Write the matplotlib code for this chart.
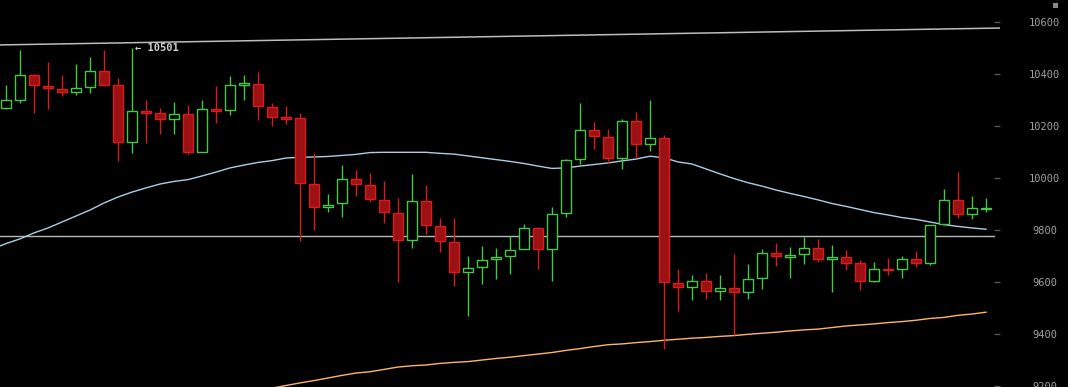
import matplotlib
matplotlib.use("Agg")
import matplotlib.pyplot as plt
from matplotlib.patches import Rectangle
import numpy as np

# ---- data ----
opens = [10272, 10302, 10396, 10354, 10342, 10331, 10350, 10412, 10358, 10141,
         10259, 10250, 10229, 10246, 10102, 10265, 10262, 10361, 10362, 10273,
         10233, 10231, 9977, 9888, 9904, 9996, 9973, 9915, 9865, 9762,
         9912, 9815, 9754, 9638, 9658, 9688, 9700, 9727, 9808, 9727,
         9865, 10073, 10185, 10158, 10077, 10219, 10131, 10154, 9596, 9581,
         9604, 9565, 9577, 9562, 9615, 9712, 9700, 9708, 9731, 9693,
         9696, 9673, 9606, 9652, 9650, 9688, 9673, 9823, 9915, 9862, 9883]
highs = [10359, 10493, 10401, 10447, 10397, 10440, 10467, 10495, 10385, 10501,
         10301, 10270, 10293, 10282, 10301, 10355, 10393, 10397, 10409, 10288,
         10278, 10251, 10097, 9938, 10050, 10032, 10019, 9990, 9924, 10017,
         9973, 9847, 9847, 9700, 9740, 9731, 9778, 9823, 9812, 9888,
         10073, 10290, 10217, 10190, 10228, 10255, 10301, 10165, 9650, 9627,
         9635, 9627, 9710, 9670, 9727, 9750, 9735, 9774, 9765, 9743,
         9724, 9686, 9678, 9693, 9700, 9720, 9819, 9959, 10024, 9932, 9924]
lows = [10268, 10291, 10252, 10267, 10318, 10322, 10329, 10360, 10068, 10098,
        10137, 10172, 10172, 10095, 10100, 10214, 10245, 10302, 10225, 10202,
        10210, 9760, 9802, 9872, 9852, 9933, 9910, 9829, 9602, 9733,
        9787, 9718, 9587, 9472, 9595, 9614, 9633, 9727, 9652, 9606,
        9852, 10056, 10114, 10058, 10035, 10077, 10106, 9342, 9488, 9531,
        9537, 9531, 9396, 9537, 9575, 9662, 9618, 9672, 9677, 9564,
        9648, 9572, 9602, 9629, 9618, 9660, 9668, 9823, 9846, 9842, 9869]
closes = [10300, 10396, 10358, 10346, 10331, 10346, 10412, 10360, 10141, 10258,
          10252, 10229, 10246, 10102, 10265, 10260, 10358, 10363, 10277, 10235,
          10229, 9981, 9888, 9898, 9996, 9977, 9919, 9869, 9762, 9912,
          9819, 9758, 9638, 9654, 9685, 9696, 9723, 9808, 9727, 9862,
          10069, 10185, 10162, 10077, 10219, 10131, 10154, 9600, 9581, 9604,
          9565, 9577, 9562, 9612, 9712, 9700, 9704, 9731, 9691, 9696,
          9675, 9606, 9650, 9648, 9688, 9673, 9819, 9915, 9862, 9885, 9885]

# light-blue moving average, candle index -1 .. 70
ma_fast = [9728, 9749, 9767, 9790, 9809, 9832, 9855, 9878, 9905, 9928, 9947,
           9963, 9978, 9988, 9995, 10009, 10024, 10040, 10051, 10061, 10068,
           10078, 10081, 10082, 10084, 10088, 10092, 10099, 10100, 10100, 10100,
           10100, 10096, 10093, 10086, 10079, 10072, 10065, 10057, 10047, 10038,
           10040, 10047, 10053, 10059, 10067, 10074, 10085, 10079, 10063, 10055,
           10036, 10017, 9999, 9983, 9970, 9955, 9942, 9930, 9917, 9903,
           9892, 9880, 9868, 9859, 9849, 9842, 9832, 9822, 9815, 9809, 9804]
ma_fast_start = -1

# orange moving average, candle index 19 .. 70
ma_slow = [9193, 9203, 9213, 9222, 9232, 9242, 9251, 9256, 9265, 9274,
           9279, 9282, 9288, 9292, 9295, 9301, 9307, 9312, 9318, 9324,
           9330, 9338, 9345, 9353, 9360, 9363, 9368, 9372, 9377, 9381,
           9385, 9388, 9392, 9395, 9400, 9404, 9408, 9413, 9417, 9420,
           9426, 9432, 9436, 9440, 9445, 9449, 9454, 9461, 9465, 9473,
           9478, 9485]
ma_slow_start = 19

trend_values = [10513, 10578]   # resistance trendline at left / right edge
hline_value = 9777              # horizontal support line
peak_label = "← 10501"
peak_index = 9
peak_value = 10501

yticks = [9200, 9400, 9600, 9800, 10000, 10200, 10400, 10600]

# ---- styling ----
BG = "#000000"
RED_FILL = "#9c1114"
RED_EDGE = "#d81c1c"
GREEN = "#46c846"
BLUE = "#a9cfe6"
ORANGE = "#ffb566"

fig = plt.figure(figsize=(10.68, 3.87), dpi=100, facecolor=BG)
ax = fig.add_axes([0, 0, 1000 / 1068, 1])
ax.set_facecolor(BG)

n = len(opens)
xmin, xmax = -0.43, 71.0
ax.set_xlim(xmin, xmax)
ax.set_ylim(9197.3, 10685.8)

# trendline and horizontal line
ax.plot([xmin, xmax], trend_values, color="#bdbdbd", lw=1.1, zorder=1,
        solid_capstyle="butt")
ax.plot([xmin, xmax - 0.4], [hline_value, hline_value], color="#b8b8b8", lw=1.0,
        zorder=1)

# moving averages
ax.plot(np.arange(len(ma_fast)) + ma_fast_start, ma_fast, color=BLUE, lw=1.0, zorder=2)
ax.plot(np.arange(len(ma_slow)) + ma_slow_start, ma_slow, color=ORANGE, lw=1.0, zorder=2)

# candles
bw = 10 / 14
min_h = 6
for i in range(n):
    o, h, l, c = opens[i], highs[i], lows[i], closes[i]
    up = c >= o
    col = GREEN if up else RED_EDGE
    ax.vlines(i, l, h, color=col, lw=1.0, zorder=3)
    lo, hi = min(o, c), max(o, c)
    hgt = max(hi - lo, min_h)
    mid = (hi + lo) / 2
    rect = Rectangle((i - bw / 2, mid - hgt / 2), bw, hgt,
                     facecolor=BG if up else RED_FILL,
                     edgecolor=col, lw=1.0, zorder=4)
    ax.add_patch(rect)

# peak annotation
ax.annotate(peak_label, xy=(peak_index, peak_value), xytext=(2, 0),
            textcoords="offset points", ha="left", va="center",
            fontsize=7.5, fontweight="bold", color="#d0d0d0",
            family="DejaVu Sans Mono", zorder=6)

# axis styling
for s in ax.spines.values():
    s.set_visible(False)
ax.set_xticks([])
ax.yaxis.tick_right()
ax.set_yticks(yticks)
ax.set_yticklabels([str(t) for t in yticks])
ax.tick_params(axis="y", direction="in", length=4, width=1, color="#555555",
               pad=32, labelcolor="#a0a0a0", labelsize=7.5)
for lab in ax.get_yticklabels():
    lab.set_family("DejaVu Sans Mono")
    lab.set_horizontalalignment("center")

# small square in the top-right corner
fig.patches.append(Rectangle((1053 / 1068, 1 - 8 / 387), 5 / 1068, 5 / 387,
                             transform=fig.transFigure, facecolor="#8a8a8a",
                             edgecolor="none"))

fig.savefig("out.png", dpi=100, facecolor=BG)
